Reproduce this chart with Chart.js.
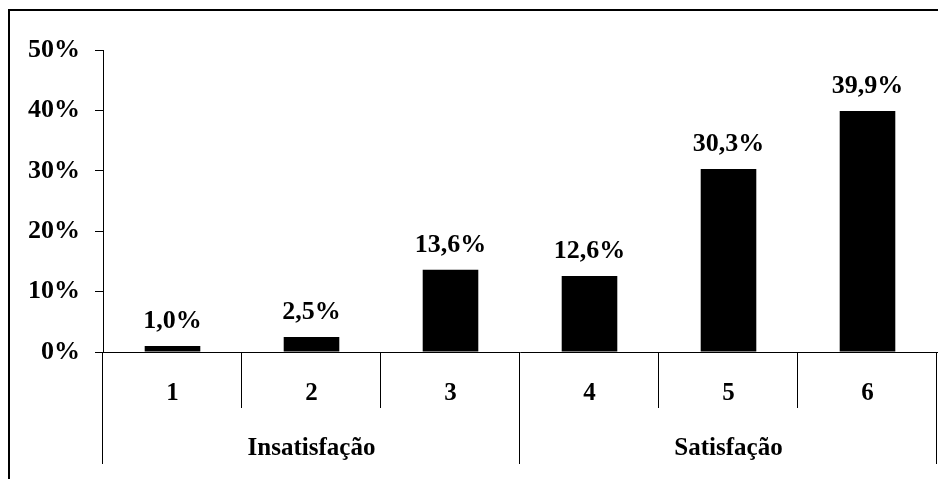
<!DOCTYPE html>
<html>
<head>
<meta charset="utf-8">
<script src="https://cdn.jsdelivr.net/npm/chart.js@4/dist/chart.umd.min.js"></script>
<style>
html,body{margin:0;padding:0;background:#fff;}
canvas{display:block;}
</style>
</head>
<body>
<canvas id="c" width="938" height="479"></canvas>
<script>
// ---- data ----
const categories = ['1', '2', '3', '4', '5', '6'];
const values = [1.0, 2.5, 13.6, 12.6, 30.3, 39.9];
const groupLabels = ['Insatisfação', 'Satisfação'];
const groupSizes = [3, 3];
const yTicks = [0, 10, 20, 30, 40, 50];

const FONT = '"Liberation Serif", "Times New Roman", serif';
const fmt = v => v.toFixed(1).replace('.', ',') + '%';

const decor = {
  id: 'decor',
  afterDraw(chart) {
    const ctx = chart.ctx;
    const x = chart.scales.x;
    const area = chart.chartArea;
    ctx.save();
    // outer border
    ctx.strokeStyle = '#000';
    ctx.lineWidth = 2;
    ctx.strokeRect(9, 10, 1000, 1000);
    // data labels
    ctx.fillStyle = '#000';
    ctx.font = 'bold 26px ' + FONT;
    ctx.textAlign = 'center';
    ctx.textBaseline = 'alphabetic';
    const meta = chart.getDatasetMeta(0);
    meta.data.forEach((bar, i) => {
      ctx.fillText(fmt(values[i]), bar.x, bar.y - 18);
    });
    // category dividers & group dividers
    const groupBounds = [0];
    groupSizes.reduce((acc, s) => { groupBounds.push(acc + s); return acc + s; }, 0);
    ctx.lineWidth = 1;
    ctx.strokeStyle = '#000';
    for (let i = 0; i <= categories.length; i++) {
      const px = Math.round(x.getPixelForValue(i - 0.5)) - 0.5;
      const isGroup = groupBounds.includes(i);
      ctx.beginPath();
      ctx.moveTo(px, area.bottom);
      ctx.lineTo(px, isGroup ? 464 : 408);
      ctx.stroke();
    }
    // group labels
    ctx.font = 'bold 25px ' + FONT;
    for (let g = 0; g < groupLabels.length; g++) {
      const a = x.getPixelForValue(groupBounds[g] - 0.5);
      const b = x.getPixelForValue(groupBounds[g + 1] - 0.5);
      ctx.fillText(groupLabels[g], (a + b) / 2, 455);
    }
    ctx.restore();
  }
};

new Chart(document.getElementById('c'), {
  type: 'bar',
  data: {
    labels: categories,
    datasets: [{
      data: values,
      backgroundColor: '#000',
      borderWidth: 0,
      categoryPercentage: 1.0,
      barPercentage: 0.4
    }]
  },
  options: {
    responsive: false,
    animation: false,
    devicePixelRatio: 1,
    layout: { padding: { left: 0, top: 50, right: 1, bottom: 0 } },
    plugins: { legend: { display: false }, tooltip: { enabled: false } },
    scales: {
      x: {
        grid: { display: false },
        border: { display: true, color: '#000', width: 1 },
        ticks: {
          color: '#000',
          font: { family: FONT, size: 25, weight: 'bold' },
          padding: 19,
          maxRotation: 0
        },
        afterFit(s) { s.height = 127; }
      },
      y: {
        min: 0,
        max: 50,
        afterBuildTicks(s) { s.ticks = yTicks.map(v => ({ value: v })); },
        grid: { display: true, drawOnChartArea: false, drawTicks: true, tickLength: 8, color: '#000' },
        border: { display: true, color: '#000', width: 1 },
        ticks: {
          color: '#000',
          font: { family: FONT, size: 26, weight: 'bold' },
          padding: 15,
          callback: v => v + '%'
        },
        afterFit(s) { s.width = 103; }
      }
    }
  },
  plugins: [decor]
});
</script>
</body>
</html>
